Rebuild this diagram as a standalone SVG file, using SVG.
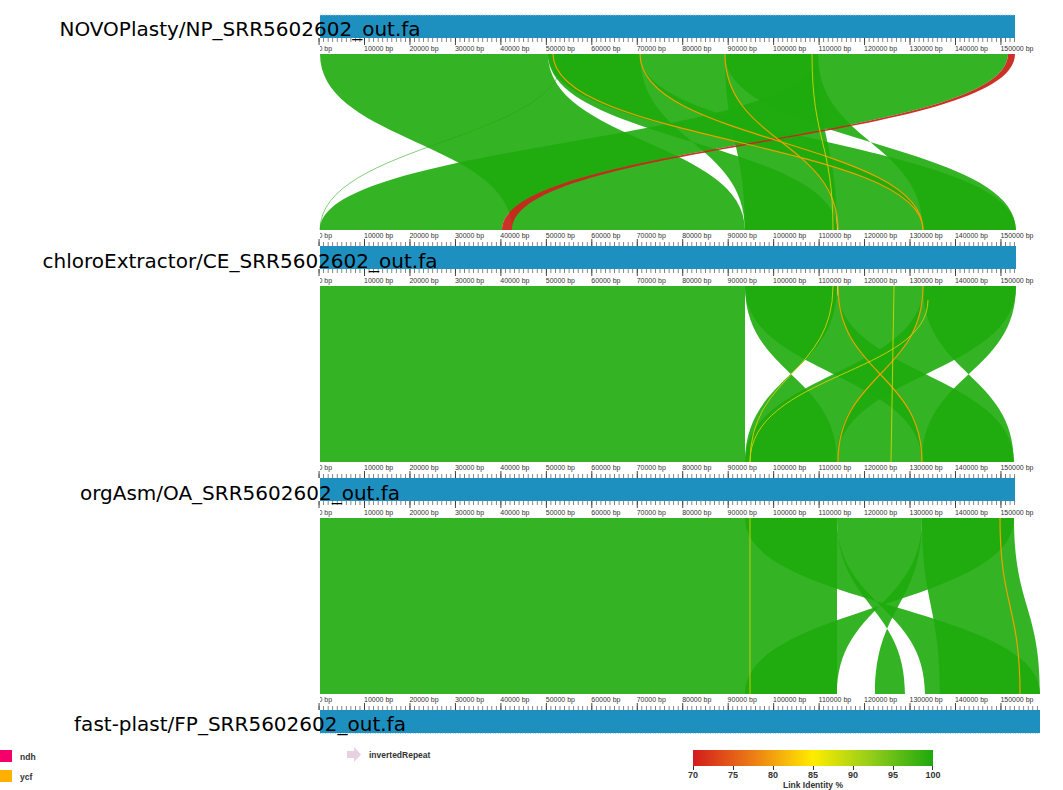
<svg xmlns="http://www.w3.org/2000/svg" width="1063" height="790" viewBox="0 0 1063 790">
<style>
.lk{fill:#1eab0d;fill-opacity:0.9;stroke:none}
.red{fill:#c9261c;fill-opacity:0.95}
.or{fill:none;stroke:#eea000;stroke-width:1.2}
.yl{fill:none;stroke:#d8d000;stroke-width:0.9}
.thin{fill:none;stroke:#1eab0d;stroke-width:0.7;opacity:0.8}
.bar{fill:#1e90c0}
.dot{stroke:#a8d2e8;stroke-width:1;stroke-dasharray:1 1.5}
.tl{font-family:"DejaVu Sans",sans-serif;font-size:20px;fill:#000;text-anchor:middle}
.bp{font-family:"Liberation Sans",Arial,sans-serif;font-size:7px;fill:#333}
.lg{font-family:"Liberation Sans",Arial,sans-serif;font-size:8.5px;font-weight:bold;fill:#333}
.sc{font-family:"Liberation Sans",Arial,sans-serif;font-size:9px;font-weight:bold;fill:#333;text-anchor:middle}
</style>
<defs>
<pattern id="pmin" x="318.6" y="0" width="4.546" height="1" patternUnits="userSpaceOnUse"><rect x="0" y="0" width="0.8" height="1" fill="#666"/></pattern>
<pattern id="pmaj" x="318.55" y="0" width="45.46" height="1" patternUnits="userSpaceOnUse"><rect x="0" y="0" width="0.9" height="1" fill="#333"/></pattern>
<clipPath id="clipL"><rect x="320" y="0" width="743" height="790"/></clipPath>
<linearGradient id="idg" x1="0" y1="0" x2="1" y2="0">
<stop offset="0" stop-color="#d31c1c"/><stop offset="0.25" stop-color="#ec7d14"/><stop offset="0.5" stop-color="#ffec00"/><stop offset="0.75" stop-color="#8fcc1a"/><stop offset="1" stop-color="#1ea80d"/>
</linearGradient>
</defs>
<rect width="1063" height="790" fill="#fff"/>

<g id="connectors">
<g id="links-NP-CE">
<path class="lk" d="M320 54 L548 54 C548 142 745 142 745 230 L512 230 C512 142 320 142 320 54Z"/>
<path class="lk" d="M818 54 L1008 54 C1008 142 502 142 502 230 L320 230 C320 142 818 142 818 54Z"/>
<path class="lk" d="M548 54 L640 54 C640 142 745 142 745 230 L837 230 C837 142 548 142 548 54Z"/>
<path class="lk" d="M548 54 L640 54 C640 142 1016 142 1016 230 L923 230 C923 142 548 142 548 54Z"/>
<path class="lk" d="M640 54 L725 54 C725 142 838 142 838 230 L923 230 C923 142 640 142 640 54Z"/>
<path class="lk" d="M725 54 L818 54 C818 142 837 142 837 230 L745 230 C745 142 725 142 725 54Z"/>
<path class="lk" d="M725 54 L818 54 C818 142 923 142 923 230 L1016 230 C1016 142 725 142 725 54Z"/>
<path class="red" d="M1008 54 L1015 54 C1015 142 512 142 512 230 L502 230 C502 142 1008 142 1008 54Z"/>
<path class="thin" d="M564 54 C564 142 320 142 320 230"/>
<path class="or" d="M725 54 C725 142 838 142 838 230"/>
<path class="or" d="M640 54 C640 142 923 142 923 230"/>
<path class="yl" d="M812 54 C812 142 833 142 833 230"/>
<path class="or" d="M553 54 C553 142 923 142 923 230"/>
</g>
<g id="links-CE-OA">
<path class="lk" d="M320 286 L745 286 L745 462 L320 462Z"/>
<path class="lk" d="M745 286 L837 286 C837 374 745 374 745 462 L837 462 C837 374 745 374 745 286Z"/>
<path class="lk" d="M745 286 L837 286 C837 374 1014 374 1014 462 L922 462 C922 374 745 374 745 286Z"/>
<path class="lk" d="M838 286 L923 286 C923 374 837 374 837 462 L922 462 C922 374 838 374 838 286Z"/>
<path class="lk" d="M923 286 L1016 286 C1016 374 837 374 837 462 L745 462 C745 374 923 374 923 286Z"/>
<path class="lk" d="M923 286 L1016 286 C1016 374 922 374 922 462 L1014 462 C1014 374 923 374 923 286Z"/>
<path class="or" d="M838 286 C838 374 922 374 922 462"/>
<path class="or" d="M923 286 C923 374 838 374 838 462"/>
<path class="yl" d="M833 286 C833 374 750 374 750 462"/>
<path class="yl" d="M928 300 C928 374 750 374 750 462" stroke-width="0.5"/>
<path class="yl" d="M894 286 L891 462" stroke-width="0.5"/>
</g>
<g id="links-OA-FP">
<path class="lk" d="M320 518 L837 518 L837 694 L320 694Z"/>
<path class="lk" d="M745 518 L837 518 C837 606 925 606 925 694 L1040 694 C1040 606 745 606 745 518Z"/>
<path class="lk" d="M922 518 L1014 518 C1014 606 745 606 745 694 L837 694 C837 606 922 606 922 518Z"/>
<path class="lk" d="M837 518 L922 518 C922 606 875 606 875 694 L905 694 C905 606 837 606 837 518Z"/>
<path class="lk" d="M922 518 L1014 518 C1014 606 1040 606 1040 694 L940 694 C940 606 922 606 922 518Z"/>
<path class="yl" d="M750 518 L750 694"/>
<path class="or" d="M1000 518 C1000 606 1020 606 1020 694"/>
</g>
</g>

<g id="track-NP">
<rect class="bar" x="320" y="15" width="695" height="23"/>
<line class="dot" x1="320" y1="15" x2="1015" y2="15"/>
<rect x="318" y="38" width="697" height="4" fill="url(#pmin)"/>
<rect x="318" y="38" width="697" height="7" fill="url(#pmaj)"/>
<text class="bp" y="50.5" clip-path="url(#clipL)"><tspan x="318.5">0 bp</tspan><tspan x="364">10000 bp</tspan><tspan x="409.4">20000 bp</tspan><tspan x="454.9">30000 bp</tspan><tspan x="500.3">40000 bp</tspan><tspan x="545.8">50000 bp</tspan><tspan x="591.3">60000 bp</tspan><tspan x="636.7">70000 bp</tspan><tspan x="682.2">80000 bp</tspan><tspan x="727.6">90000 bp</tspan><tspan x="773.1">100000 bp</tspan><tspan x="818.6">110000 bp</tspan><tspan x="864">120000 bp</tspan><tspan x="909.5">130000 bp</tspan><tspan x="954.9">140000 bp</tspan><tspan x="1000.4">150000 bp</tspan></text>
<text class="tl" x="240" y="36">NOVOPlasty/NP_SRR5602602_out.fa</text>
</g>

<g id="track-CE">
<rect x="318" y="242" width="698" height="4" fill="url(#pmin)"/>
<rect x="318" y="239" width="698" height="7" fill="url(#pmaj)"/>
<text class="bp" y="237.5" clip-path="url(#clipL)"><tspan x="318.5">0 bp</tspan><tspan x="364">10000 bp</tspan><tspan x="409.4">20000 bp</tspan><tspan x="454.9">30000 bp</tspan><tspan x="500.3">40000 bp</tspan><tspan x="545.8">50000 bp</tspan><tspan x="591.3">60000 bp</tspan><tspan x="636.7">70000 bp</tspan><tspan x="682.2">80000 bp</tspan><tspan x="727.6">90000 bp</tspan><tspan x="773.1">100000 bp</tspan><tspan x="818.6">110000 bp</tspan><tspan x="864">120000 bp</tspan><tspan x="909.5">130000 bp</tspan><tspan x="954.9">140000 bp</tspan><tspan x="1000.4">150000 bp</tspan></text>
<rect class="bar" x="320" y="246" width="696" height="23"/>
<rect x="318" y="269" width="698" height="4" fill="url(#pmin)"/>
<rect x="318" y="269" width="698" height="7" fill="url(#pmaj)"/>
<text class="bp" y="283" clip-path="url(#clipL)"><tspan x="318.5">0 bp</tspan><tspan x="364">10000 bp</tspan><tspan x="409.4">20000 bp</tspan><tspan x="454.9">30000 bp</tspan><tspan x="500.3">40000 bp</tspan><tspan x="545.8">50000 bp</tspan><tspan x="591.3">60000 bp</tspan><tspan x="636.7">70000 bp</tspan><tspan x="682.2">80000 bp</tspan><tspan x="727.6">90000 bp</tspan><tspan x="773.1">100000 bp</tspan><tspan x="818.6">110000 bp</tspan><tspan x="864">120000 bp</tspan><tspan x="909.5">130000 bp</tspan><tspan x="954.9">140000 bp</tspan><tspan x="1000.4">150000 bp</tspan></text>
<text class="tl" x="240" y="268">chloroExtractor/CE_SRR5602602_out.fa</text>
</g>

<g id="track-OA">
<rect x="318" y="474" width="697" height="4" fill="url(#pmin)"/>
<rect x="318" y="471" width="697" height="7" fill="url(#pmaj)"/>
<text class="bp" y="469.5" clip-path="url(#clipL)"><tspan x="318.5">0 bp</tspan><tspan x="364">10000 bp</tspan><tspan x="409.4">20000 bp</tspan><tspan x="454.9">30000 bp</tspan><tspan x="500.3">40000 bp</tspan><tspan x="545.8">50000 bp</tspan><tspan x="591.3">60000 bp</tspan><tspan x="636.7">70000 bp</tspan><tspan x="682.2">80000 bp</tspan><tspan x="727.6">90000 bp</tspan><tspan x="773.1">100000 bp</tspan><tspan x="818.6">110000 bp</tspan><tspan x="864">120000 bp</tspan><tspan x="909.5">130000 bp</tspan><tspan x="954.9">140000 bp</tspan><tspan x="1000.4">150000 bp</tspan></text>
<rect class="bar" x="320" y="478" width="695" height="23"/>
<rect x="318" y="501" width="697" height="4" fill="url(#pmin)"/>
<rect x="318" y="501" width="697" height="7" fill="url(#pmaj)"/>
<text class="bp" y="515" clip-path="url(#clipL)"><tspan x="318.5">0 bp</tspan><tspan x="364">10000 bp</tspan><tspan x="409.4">20000 bp</tspan><tspan x="454.9">30000 bp</tspan><tspan x="500.3">40000 bp</tspan><tspan x="545.8">50000 bp</tspan><tspan x="591.3">60000 bp</tspan><tspan x="636.7">70000 bp</tspan><tspan x="682.2">80000 bp</tspan><tspan x="727.6">90000 bp</tspan><tspan x="773.1">100000 bp</tspan><tspan x="818.6">110000 bp</tspan><tspan x="864">120000 bp</tspan><tspan x="909.5">130000 bp</tspan><tspan x="954.9">140000 bp</tspan><tspan x="1000.4">150000 bp</tspan></text>
<text class="tl" x="240" y="500">orgAsm/OA_SRR5602602_out.fa</text>
</g>

<g id="track-FP">
<rect x="318" y="706" width="722" height="4" fill="url(#pmin)"/>
<rect x="318" y="703" width="722" height="7" fill="url(#pmaj)"/>
<text class="bp" y="701.5" clip-path="url(#clipL)"><tspan x="318.5">0 bp</tspan><tspan x="364">10000 bp</tspan><tspan x="409.4">20000 bp</tspan><tspan x="454.9">30000 bp</tspan><tspan x="500.3">40000 bp</tspan><tspan x="545.8">50000 bp</tspan><tspan x="591.3">60000 bp</tspan><tspan x="636.7">70000 bp</tspan><tspan x="682.2">80000 bp</tspan><tspan x="727.6">90000 bp</tspan><tspan x="773.1">100000 bp</tspan><tspan x="818.6">110000 bp</tspan><tspan x="864">120000 bp</tspan><tspan x="909.5">130000 bp</tspan><tspan x="954.9">140000 bp</tspan><tspan x="1000.4">150000 bp</tspan></text>
<rect class="bar" x="320" y="710" width="720" height="23"/>
<line class="dot" x1="320" y1="733.5" x2="1040" y2="733.5"/>
<text class="tl" x="240" y="731">fast-plast/FP_SRR5602602_out.fa</text>
</g>

<g id="legend">
<rect x="0" y="750" width="12" height="12" fill="#f5006a"/>
<text class="lg" x="20" y="760">ndh</text>
<rect x="0" y="770" width="12" height="12" fill="#ffb000"/>
<text class="lg" x="20" y="780">ycf</text>
<path d="M347 751 L354 751 L354 747 L361 754.5 L354 762 L354 758 L347 758Z" fill="#e6d0e2"/>
<text class="lg" x="369" y="758">invertedRepeat</text>
</g>

<g id="scale">
<rect x="693" y="750" width="240" height="16" fill="url(#idg)"/>
<path d="M693.5 766v4M733.5 766v4M773.5 766v4M813.5 766v4M853.5 766v4M893.5 766v4M932.5 766v4" stroke="#333" stroke-width="1"/>
<text class="sc" x="693" y="778">70</text><text class="sc" x="733" y="778">75</text><text class="sc" x="773" y="778">80</text><text class="sc" x="813" y="778">85</text><text class="sc" x="853" y="778">90</text><text class="sc" x="893" y="778">95</text><text class="sc" x="933" y="778">100</text>
<text class="sc" x="813" y="788" style="font-size:8.5px">Link Identity %</text>
</g>
</svg>
